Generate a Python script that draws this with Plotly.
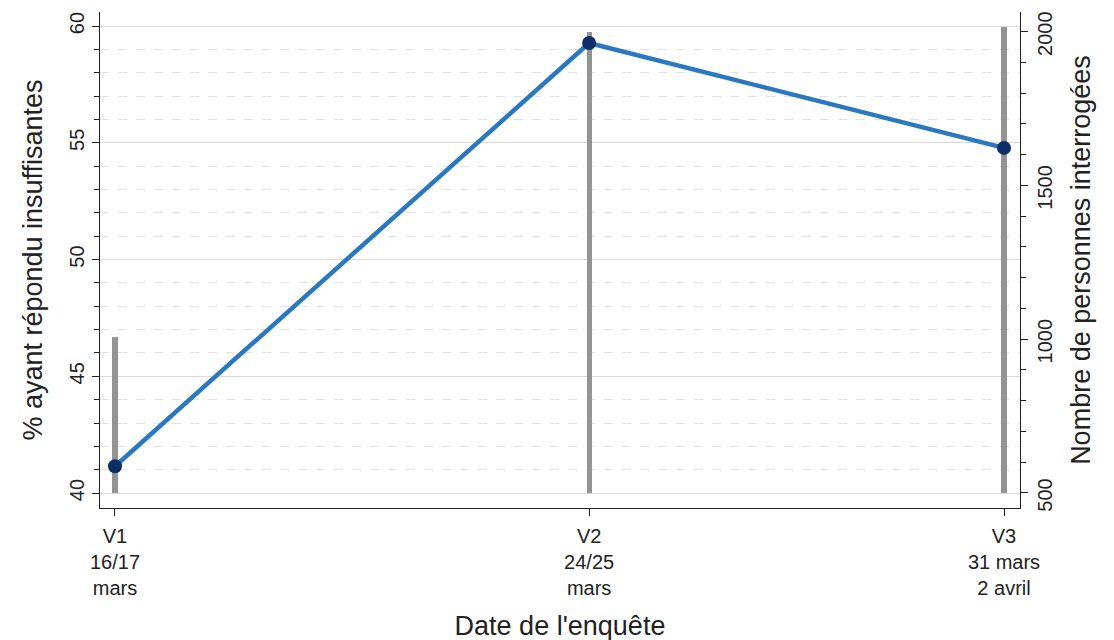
import plotly.graph_objects as go

# Data
waves_x = [16.5, 24.5, 31.5]
wave_labels = ["V1<br>16/17<br>mars", "V2<br>24/25<br>mars", "V3<br>31 mars<br>2 avril"]
pct_insuffisant = [41.15, 59.27, 54.78]
n_interroges = [1008, 1998, 2015]
bar_base = 500

FONT = "Liberation Sans, Arial, sans-serif"

fig = go.Figure()

fig.add_trace(go.Bar(
    x=waves_x,
    y=[n - bar_base for n in n_interroges],
    base=[bar_base] * len(n_interroges),
    width=0.085,
    marker=dict(color="#949494", line=dict(width=0)),
    yaxis="y",
    showlegend=False,
    hoverinfo="skip",
))

fig.add_trace(go.Scatter(
    x=waves_x,
    y=pct_insuffisant,
    mode="lines+markers",
    line=dict(color="#2a78c0", width=4.5),
    marker=dict(color="#0d2f68", size=14),
    yaxis="y2",
    showlegend=False,
))

axis_common = dict(
    showline=True, linecolor="#222", linewidth=1.2,
    ticks="outside", ticklen=7, tickcolor="#222",
    tickfont=dict(family=FONT, size=20, color="#222"),
    zeroline=False, automargin=False, ticklabeloverflow="allow",
)

fig.update_layout(
    width=1114, height=640,
    margin=dict(l=92, r=102, t=4, b=140),
    plot_bgcolor="white", paper_bgcolor="white",
    font=dict(family=FONT, color="#222"),
    bargap=0,
    xaxis=dict(
        **axis_common,
        range=[16.247, 31.77],
        tickvals=waves_x,
        ticktext=wave_labels,
        ticklabelstandoff=3,
        showgrid=False,
        title=dict(text="Date de l'enquête", font=dict(family=FONT, size=27), standoff=18),
    ),
    yaxis=dict(
        **axis_common,
        side="right",
        range=[451.2, 2064],
        tickvals=[500, 1000, 1500, 2000],
        tickangle=-90,
        ticklabelshift=5,
        showgrid=False,
        minor=dict(dtick=100, ticks="outside", ticklen=5, tickcolor="#222", showgrid=False),
        title=dict(text="Nombre de personnes interrogées", font=dict(family=FONT, size=27), standoff=16),
    ),
    yaxis2=dict(
        **axis_common,
        overlaying="y",
        side="left",
        range=[39.36, 60.6],
        tickvals=[40, 45, 50, 55, 60],
        tickangle=-90,
        showgrid=True, gridcolor="#d9d9d9", gridwidth=1,
        minor=dict(dtick=1, tick0=40, ticks="outside", ticklen=5, tickcolor="#222",
                   showgrid=True, gridcolor="#e3e3e3", griddash="dash", gridwidth=1),
        title=dict(text="% ayant répondu insuffisantes", font=dict(family=FONT, size=27), standoff=15),
    ),
)

fig.write_html("out.html")
